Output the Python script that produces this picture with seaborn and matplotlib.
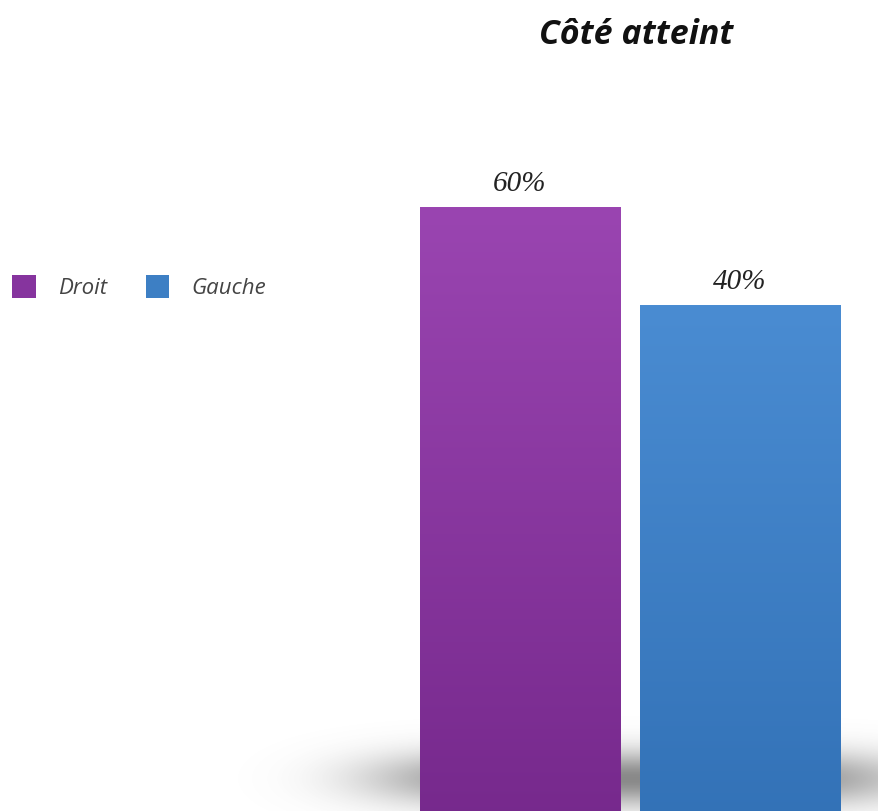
import numpy as np
import pandas as pd
import matplotlib
matplotlib.use("Agg")
import matplotlib.pyplot as plt
import seaborn as sns
from matplotlib.colors import LinearSegmentedColormap
from matplotlib.patches import Patch

categories = ["Droit", "Gauche"]
values = [60, 40]
labels = ["60%", "40%"]
title = "Côté atteint"
colors_top = ["#9a45b1", "#4a8cd2"]
colors_bot = ["#74278a", "#3170b5"]
colors = ["#86349e", "#3d7fc4"]

df = pd.DataFrame({"cat": categories, "val": values})

sns.set_theme(style="white")
plt.rcParams["font.family"] = ["Open Sans", "DejaVu Sans"]

W, H = 879, 811
fig = plt.figure(figsize=(W / 100, H / 100), dpi=100)
fig.patch.set_facecolor("white")

# soft floor shadow
bg = fig.add_axes([0, 0, 1, 1], zorder=0)
bg.set_axis_off()
yy, xx = np.mgrid[0:H, 0:W]
hx = np.exp(-np.abs((xx - 640) / 265.0) ** 4)
vy = np.exp(-((yy - 778) / 27.0) ** 2)
alpha = np.clip(hx * vy * 0.8, 0, 1)
rgba = np.zeros((H, W, 4))
rgba[..., :3] = 0.42
rgba[..., 3] = alpha
bg.imshow(rgba, extent=(0, W, H, 0), aspect="auto")
bg.set_xlim(0, W)
bg.set_ylim(H, 0)

ax_top_px = 100
ax = fig.add_axes([410 / W, 0, 440 / W, (H - ax_top_px) / H], zorder=1)
ax.patch.set_alpha(0)
sns.barplot(data=df, x="cat", y="val", hue="cat", palette=colors, width=0.91,
            ax=ax, legend=False, saturation=1)

scale = 4.9
lo = 60 - (H - 207) / scale
hi = lo + (H - ax_top_px) / scale
base = lo - 10

for i, p in enumerate(ax.patches):
    v = p.get_height()
    p.set_y(base)
    p.set_height(v - base)
    p.set_edgecolor("none")
    cmap = LinearSegmentedColormap.from_list("g", [colors_bot[i], colors_top[i]])
    grad = np.linspace(0, 1, 256).reshape(-1, 1)
    x0 = p.get_x()
    im = ax.imshow(grad, extent=(x0, x0 + p.get_width(), base, v), origin="lower",
                   aspect="auto", cmap=cmap, zorder=2)
    im.set_clip_path(p)
    ax.text(x0 + p.get_width() / 2, v + 4.6, labels[i], ha="center", va="center",
            fontsize=21, fontstyle="italic", family=["Liberation Serif"], color="#222222")

ax.set_xlim(-0.5, 1.5)
ax.set_ylim(lo, hi)
ax.set_axis_off()

fig.text(636 / W, 1 - 35 / H, title, ha="center", va="center", fontsize=24.5,
         fontweight="bold", fontstyle="italic", color="#111111")

# legend
handles = [Patch(facecolor=c, edgecolor="none") for c in colors]
fig.legend(handles, categories, loc="center left", bbox_to_anchor=(0.0, 1 - 287 / H),
           ncol=2, frameon=False, prop={"style": "italic", "size": 16},
           handlelength=1.05, handleheight=1.2, handletextpad=1.0, columnspacing=1.75,
           borderaxespad=0.0, borderpad=0.55, labelcolor="#444444")

fig.savefig("out.png", dpi=100, facecolor="white")
